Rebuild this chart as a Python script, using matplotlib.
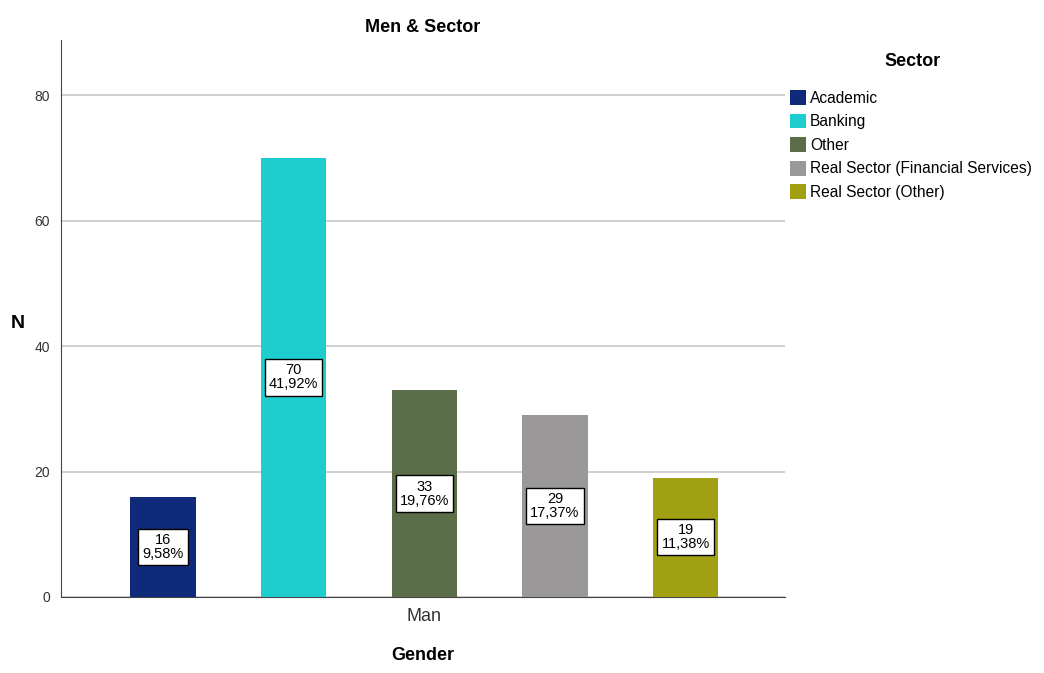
import numpy as np
import matplotlib.pyplot as plt

# Counts of men per sector
sectors = ["Academic", "Banking", "Other",
           "Real Sector (Financial Services)", "Real Sector (Other)"]
counts = [16, 70, 33, 29, 19]
colors = ["#0f2a7a", "#1ecece", "#5a6f49", "#9a9898", "#a1a012"]
yticks = [0, 20, 40, 60, 80]

plt.rcParams['font.family'] = ['Liberation Sans', 'DejaVu Sans']

W, H = 1044, 673
fig = plt.figure(figsize=(W / 100, H / 100), dpi=100)
ax = fig.add_axes([61 / W, 1 - 597 / H, 724 / W, 557 / H])

total = sum(counts)
x = np.arange(len(counts))
bars = ax.bar(x, counts, width=0.5, color=colors, zorder=3)

# count + percentage boxes in the middle of each bar
for xi, c in zip(x, counts):
    pct = f"{100 * c / total:.2f}".replace(".", ",")
    ax.text(xi, c / 2, f"{c}\n{pct}%", ha="center", va="center", fontsize=10.5,
            linespacing=1.0, zorder=4,
            bbox=dict(boxstyle="square,pad=0.28", fc="white", ec="black", lw=1))

ax.set_xlim(-0.78, 4.76)
ax.set_ylim(0, 88.8)
ax.set_yticks(yticks)
ax.set_xticks([2])
ax.set_xticklabels(["Man"], fontsize=13, color="#333333")
ax.tick_params(axis="y", labelsize=10, length=0, pad=8, colors="#333333")
ax.tick_params(axis="x", length=0, pad=8)
ax.yaxis.grid(True, color="#c8c8c8", lw=1.2, zorder=0)
for s in ["top", "right"]:
    ax.spines[s].set_visible(False)
for s in ["left", "bottom"]:
    ax.spines[s].set_color("#444444")

ax.set_title("Men & Sector", fontsize=13, fontweight="bold", pad=6)
ax.set_xlabel("Gender", fontsize=13, fontweight="bold", labelpad=16)
fig.text(18 / W, 1 - 323 / H, "N", fontsize=14, fontweight="bold",
         ha="center", va="center")

# legend with its title placed separately
fig.text(913 / W, 1 - 61 / H, "Sector", fontsize=13, fontweight="bold",
         ha="center", va="center")
fig.legend(handles=bars, labels=sectors, loc="upper left",
           bbox_to_anchor=(776 / W, 1 - 76 / H), frameon=False,
           fontsize=11.2, handlelength=1.0, handleheight=1.1,
           handletextpad=0.3, labelspacing=0.5)

fig.savefig("out.png", dpi=100)
